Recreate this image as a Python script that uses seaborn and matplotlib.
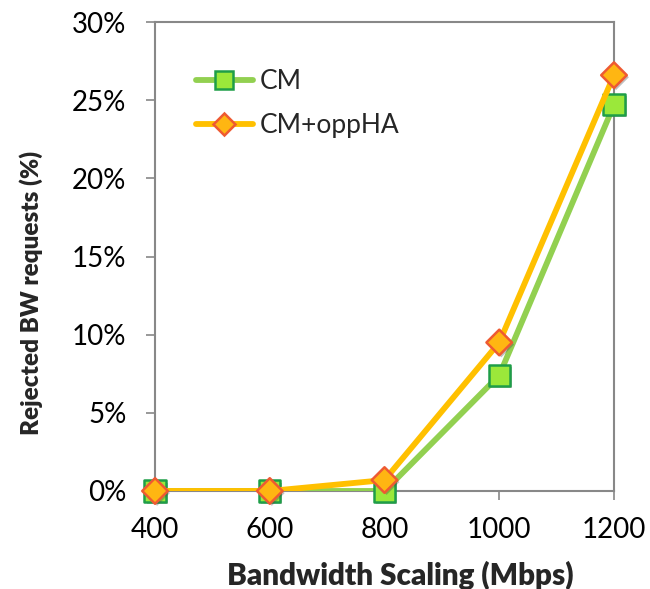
import matplotlib
matplotlib.use("Agg")
import matplotlib.pyplot as plt
import matplotlib.patheffects as pe
from matplotlib.lines import Line2D
import seaborn as sns
import pandas as pd

# Bandwidth scaling levels (Mbps) and rejected request share (%)
bandwidth = [400, 600, 800, 1000, 1200]
cm = [0.0, 0.0, 0.0, 7.4, 24.7]
cm_opp_ha = [0.0, 0.0, 0.7, 9.5, 26.6]
series_names = ["CM", "CM+oppHA"]
y_ticks = [0, 5, 10, 15, 20, 25, 30]
y_tick_labels = ["0%", "5%", "10%", "15%", "20%", "25%", "30%"]

df = pd.DataFrame({
    "bw": bandwidth * 2,
    "rej": cm + cm_opp_ha,
    "series": [series_names[0]] * len(bandwidth) + [series_names[1]] * len(bandwidth),
})

sns.set_theme(style="white")
plt.rcParams["font.family"] = ["Lato", "DejaVu Sans"]

styles = {
    "CM": dict(line="#92D050", face="#9BE83A", edge="#1E9E48", marker="s", size=230),
    "CM+oppHA": dict(line="#FFC000", face="#FFB612", edge="#EE5A32", marker="D", size=170),
}

fig = plt.figure(figsize=(6.5, 5.89), dpi=100)
ax = fig.add_axes([0.2385, 0.1664, 0.9446 - 0.2385, 0.9626 - 0.1664])

shadow = [pe.SimplePatchShadow(offset=(1.5, -1.5), alpha=0.35, shadow_rgbFace="0.3"), pe.Normal()]

for i, name in enumerate(series_names):
    st = styles[name]
    sub = df[df["series"] == name]
    sns.lineplot(data=sub, x="bw", y="rej", ax=ax, color=st["line"], linewidth=4.2,
                 legend=False, zorder=3 + 2 * i)
    sns.scatterplot(data=sub, x="bw", y="rej", ax=ax, marker=st["marker"], s=st["size"],
                    color=st["face"], edgecolor=st["edge"], linewidth=1.8, legend=False,
                    zorder=4 + 2 * i, clip_on=False)
    ax.collections[-1].set_path_effects(shadow)

ax.set_xlim(400, 1200)
ax.set_ylim(0, 30)
ax.set_xticks(bandwidth)
ax.set_xticklabels([str(b) for b in bandwidth])
ax.set_yticks(y_ticks)
ax.set_yticklabels(y_tick_labels)

for sp in ax.spines.values():
    sp.set_visible(True)
    sp.set_color("#888888")
    sp.set_linewidth(1.5)

ax.tick_params(axis="both", which="major", direction="out", length=6.5, width=1.2,
               color="#888888", labelsize=20, labelcolor="black",
               bottom=True, left=True, top=False, right=False)
ax.tick_params(axis="y", pad=14)
ax.tick_params(axis="x", pad=12)

ax.set_xlabel("Bandwidth Scaling (Mbps)", fontsize=21.3, fontweight="heavy")
ax.xaxis.set_label_coords(0.535, -0.150)
ax.set_ylabel("Rejected BW requests (%)", fontsize=17.5, fontweight="heavy")
ax.yaxis.set_label_coords(-0.245, 0.423)

handles = [
    Line2D([], [], color=styles[n]["line"], linewidth=4.2, marker=styles[n]["marker"],
           markersize=13 if n == "CM" else 11, markerfacecolor=styles[n]["face"],
           markeredgecolor=styles[n]["edge"], markeredgewidth=1.8)
    for n in series_names
]
ax.legend(handles, series_names, loc="upper left", bbox_to_anchor=(0.0895, 0.90),
          frameon=False, fontsize=19, handlelength=2.15, handletextpad=0.25,
          labelspacing=0.72, borderpad=0, borderaxespad=0)

fig.savefig("out.png", dpi=100)
